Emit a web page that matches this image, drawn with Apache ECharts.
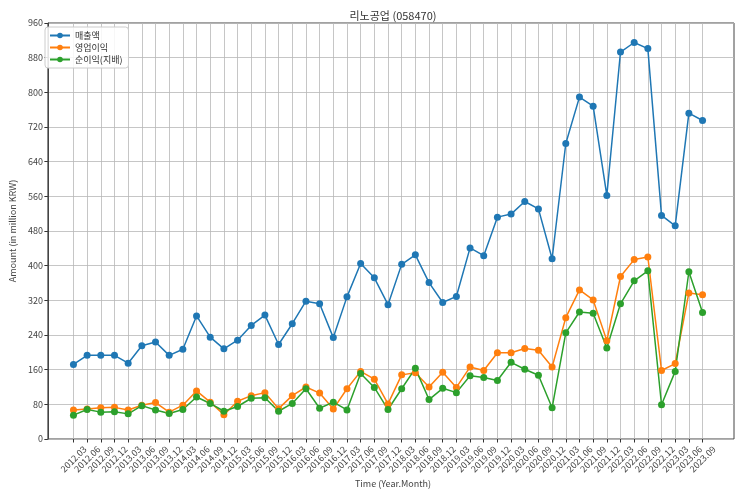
<!DOCTYPE html>
<html>
<head>
<meta charset="utf-8">
<script src="https://cdn.jsdelivr.net/npm/echarts@6/dist/echarts.min.js"></script>
<style>
html,body{margin:0;padding:0;background:#fff;}
#chart{width:743px;height:495px;}
</style>
</head>
<body>
<div id="chart"></div>
<script>
const categories = [
  '2012.03','2012.06','2012.09','2012.12',
  '2013.03','2013.06','2013.09','2013.12',
  '2014.03','2014.06','2014.09','2014.12',
  '2015.03','2015.06','2015.09','2015.12',
  '2016.03','2016.06','2016.09','2016.12',
  '2017.03','2017.06','2017.09','2017.12',
  '2018.03','2018.06','2018.09','2018.12',
  '2019.03','2019.06','2019.09','2019.12',
  '2020.03','2020.06','2020.09','2020.12',
  '2021.03','2021.06','2021.09','2021.12',
  '2022.03','2022.06','2022.09','2022.12',
  '2023.03','2023.06','2023.09'
];
const sales = [
  172,193,193,193, 175,215,224,193, 207,284,235,208,
  228,262,286,218, 266,318,312,234, 328,405,372,310,
  403,425,361,315, 329,441,423,512, 519,548,531,416,
  682,789,768,562, 893,915,901,516, 492,752,735
];
const operatingProfit = [
  67,69,72,73, 67,78,84,62, 78,111,85,56,
  87,100,107,70, 100,120,106,69, 116,156,138,81,
  148,153,120,154, 119,166,158,199, 199,209,205,166,
  280,344,321,227, 375,414,420,158, 174,337,333
];
const netProfit = [
  55,68,62,63, 58,77,67,59, 68,97,82,64,
  75,94,95,64, 82,116,71,85, 67,151,119,68,
  116,163,91,117, 107,146,142,135, 177,161,147,72,
  245,293,290,210, 312,365,388,79, 156,386,292
];
const yMin = 0, yMax = 960, yStep = 80;
const seriesNames = ['매출액','영업이익','순이익(지배)'];
const colors = ['#1f77b4','#ff7f0e','#2ca02c'];

const FONT = '"Noto Sans CJK KR", "Noto Sans", sans-serif';
const chart = echarts.init(document.getElementById('chart'), null, {renderer:'canvas'});

const mk = (name, data, color) => ({
  name, type:'line', data, xAxisIndex:0, yAxisIndex:0,
  symbol:'circle', symbolSize:7,
  lineStyle:{color, width:1.5},
  itemStyle:{color},
  emphasis:{disabled:true},
  animation:false, z:3
});

chart.setOption({
  animation:false,
  backgroundColor:'#fff',
  textStyle:{fontFamily:FONT},
  title:[
    {text:'리노공업 (058470)', left:388, top:5, textAlign:'center',
     textStyle:{fontFamily:FONT, fontSize:11, fontWeight:'normal', color:'#333'}},
    {text:'Time (Year.Month)', left:388, top:474, textAlign:'center',
     textStyle:{fontFamily:FONT, fontSize:9, fontWeight:'normal', color:'#444'}}
  ],
  legend:{
    orient:'vertical', left:45, top:27,
    data:seriesNames,
    itemWidth:20, itemHeight:7, itemGap:3,
    padding:[4,6,4,4],
    backgroundColor:'rgba(255,255,255,0.85)',
    borderColor:'#cccccc', borderWidth:1, borderRadius:3,
    textStyle:{fontFamily:FONT, fontSize:9, color:'#333'}
  },
  grid:[
    {left:73.45, right:40.45, top:23, bottom:56, show:false, containLabel:false},
    {left:42, right:9, top:23, bottom:56, show:true, borderColor:'#444', borderWidth:1, backgroundColor:'transparent', containLabel:false}
  ],
  xAxis:[
    {type:'category', gridIndex:0, data:categories, boundaryGap:false,
     axisLine:{show:false},
     axisTick:{show:true, inside:false, length:3.5, lineStyle:{color:'#333'}},
     axisLabel:{interval:0, rotate:45, align:'center', verticalAlign:'middle', margin:20,
       fontFamily:FONT, fontSize:9, color:'#444'},
     splitLine:{show:true, interval:0, lineStyle:{color:'#b8b8b8', width:0.8}}},
    {type:'value', gridIndex:1, show:false}
  ],
  yAxis:[
    {type:'value', gridIndex:0, min:yMin, max:yMax, interval:yStep, show:false},
    {type:'value', gridIndex:1, min:yMin, max:yMax, interval:yStep,
     name:'Amount (in million KRW)', nameLocation:'middle', nameGap:26,
     nameTextStyle:{fontFamily:FONT, fontSize:9, color:'#444'},
     axisLine:{show:true, lineStyle:{color:'#444'}},
     axisTick:{show:true, length:3.5, lineStyle:{color:'#333'}},
     axisLabel:{fontFamily:FONT, fontSize:9, color:'#444', margin:5},
     splitLine:{show:true, lineStyle:{color:'#b8b8b8', width:0.8}}}
  ],
  series:[
    mk(seriesNames[0], sales, colors[0]),
    mk(seriesNames[1], operatingProfit, colors[1]),
    mk(seriesNames[2], netProfit, colors[2])
  ]
});
</script>
</body>
</html>
